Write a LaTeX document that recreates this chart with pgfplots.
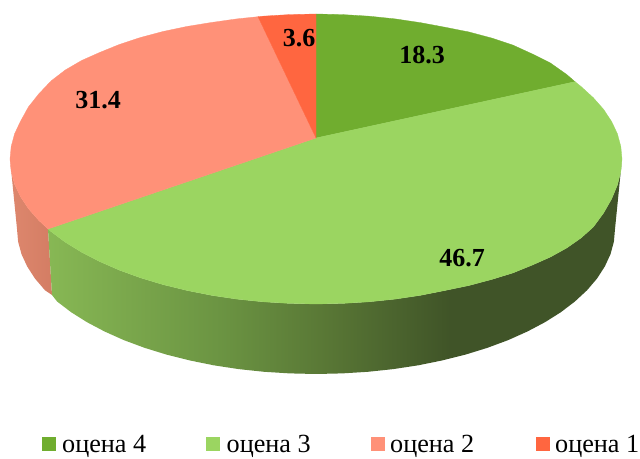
\documentclass[border=0pt]{standalone}
\usepackage{pgfplots}
\pgfplotsset{compat=1.18}
\usepackage{fontspec}
\setmainfont{Liberation Serif}
\definecolor{c4}{RGB}{112,173,47}
\definecolor{c3}{RGB}{155,213,97}
\definecolor{c2}{RGB}{255,145,120}
\definecolor{c1}{RGB}{255,102,64}
\pgfdeclarehorizontalshading{greenside}{100bp}{
 rgb(0bp)=(0.53,0.72,0.33);
 rgb(25bp)=(0.53,0.72,0.33);
 rgb(40bp)=(0.42,0.58,0.26);
 rgb(49bp)=(0.35,0.47,0.21);
 rgb(60bp)=(0.25,0.33,0.155);
 rgb(100bp)=(0.25,0.33,0.155)}
\pgfdeclarehorizontalshading{salmonside}{100bp}{
 rgb(0bp)=(0.87,0.53,0.43);
 rgb(25bp)=(0.87,0.53,0.43);
 rgb(75bp)=(0.83,0.49,0.39);
 rgb(100bp)=(0.83,0.49,0.39)}
\begin{document}
\begin{tikzpicture}
\begin{axis}[
  scale only axis, width=640pt, height=457pt,
  xmin=0, xmax=640, ymin=0, ymax=457, y dir=reverse,
  hide axis, clip=false,
  every axis plot/.append style={line width=0.3pt, mark=none},
]
\path (axis cs:0,0) (axis cs:640,457);
% side: оцена 2
\addplot[draw=none, shading=salmonside] coordinates {
(48,229)(38.7,220.3)(28.4,208.6)(20.4,196.5)(14.6,184.2)(11.2,171.6)(10,159)
(17,229)(18.1,241.6)(21.5,254.2)(27.2,266.5)(35,278.6)(45,290.3)(52,295)} -- cycle;
% side: оцена 3
\addplot[draw=none, shading=greenside] coordinates {
(48,229)(51,231.5)(65.3,242.2)(81.6,252.2)(99.6,261.5)(119.3,270.1)(140.5,277.8)(163,284.6)
(186.7,290.4)(211.3,295.3)(236.8,299.1)(262.9,301.8)(289.3,303.4)(316,304)
(342.7,303.4)(369.1,301.8)(395.2,299.1)(420.7,295.3)(445.3,290.4)(469,285.5)(491.5,279.5)
(512.7,273)(532.4,265)(550.4,257)(566.7,248)(581,238)(593.3,227)(603.6,213)
(611.6,199)(617.4,185)(620.8,171.6)(622,159)
(615,229)(613.9,241.6)(610.5,254.2)(604.8,266.5)(597,278.6)(587,290.3)(574.9,301.5)
(560.9,312.2)(545,322.2)(527.4,331.5)(508.2,340.1)(487.5,347.8)(465.5,354.6)(442.4,360.4)
(418.3,365.3)(393.4,369.1)(367.9,371.8)(342.1,373.4)(316,374)(289.9,373.4)(264.1,371.8)
(238.6,369.1)(213.7,365.3)(189.6,360.4)(166.5,354.6)(144.5,347.8)(123.8,340.1)(104.6,331.5)
(87,322.2)(71.1,312.2)(57.1,301.5)(52,295)} -- cycle;
% top: оцена 4
\addplot[draw=c4, fill=c4] coordinates {
(316,138)(316,14)(342.7,14.6)(369.1,16.2)(395.2,18.9)(420.7,22.7)(445.3,27.3)(469,32)
(491.5,38)(512.7,45)(532.4,54)(550.4,63)(566.7,74.5)(575,81.7)} -- cycle;
% top: оцена 3
\addplot[draw=c3, fill=c3] coordinates {
(316,138)(575,81.7)(581,86.5)(593.3,97.7)(603.6,109.4)(611.6,121.5)(617.4,133.8)(620.8,146.4)(622,159)
(620.8,171.6)(617.4,185)(611.6,199)(603.6,213)(593.3,227)(581,238)(566.7,248)
(550.4,257)(532.4,265)(512.7,273)(491.5,279.5)(469,285.5)(445.3,290.4)(420.7,295.3)
(395.2,299.1)(369.1,301.8)(342.7,303.4)(316,304)(289.3,303.4)(262.9,301.8)(236.8,299.1)
(211.3,295.3)(186.7,290.4)(163,284.6)(140.5,277.8)(119.3,270.1)(99.6,261.5)(81.6,252.2)
(65.3,242.2)(51,231.5)(48,229)} -- cycle;
% top: оцена 2
\addplot[draw=c2, fill=c2] coordinates {
(316,138)(48,229)(38.7,220.3)(28.4,208.6)(20.4,196.5)(14.6,184.2)(11.2,171.6)(10,159)
(11.2,146.4)(14.6,133.8)(20.4,121.5)(28.4,107)(38.7,94)(51,81)(65.3,70)(81.6,60.5)
(99.6,52.5)(119.3,44.5)(140.5,37.5)(163,31.5)(186.7,26.5)(211.3,22.5)(236.8,18.9)(258,16.7)} -- cycle;
% top: оцена 1
\addplot[draw=c1, fill=c1] coordinates {
(316,138)(258,16.7)(262.9,16.2)(289.3,14.6)(316,14)} -- cycle;
% legend squares
\addplot[draw=none, fill=c4] coordinates {(42,437)(56,437)(56,451)(42,451)} -- cycle;
\addplot[draw=none, fill=c3] coordinates {(206,437)(220,437)(220,451)(206,451)} -- cycle;
\addplot[draw=none, fill=c2] coordinates {(371,437)(385,437)(385,451)(371,451)} -- cycle;
\addplot[draw=none, fill=c1] coordinates {(536,437)(550,437)(550,451)(536,451)} -- cycle;
% labels
\def\lab#1#2#3{\node[font=\fontsize{26}{26}\selectfont\bfseries, inner sep=0pt] at (axis cs:#1,#2) {#3};}
\lab{422}{55}{18.3}
\lab{462}{258}{46.7}
\lab{98}{100}{31.4}
\lab{299}{38}{3.6}
\def\leg#1#2{\node[font=\fontsize{26.2}{26}\selectfont, anchor=base west, inner sep=0pt] at (axis cs:#1,453) {#2};}
\leg{62}{оцена 4}
\leg{226.5}{оцена 3}
\leg{390}{оцена 2}
\leg{555}{оцена 1}
\end{axis}
\end{tikzpicture}
\end{document}
